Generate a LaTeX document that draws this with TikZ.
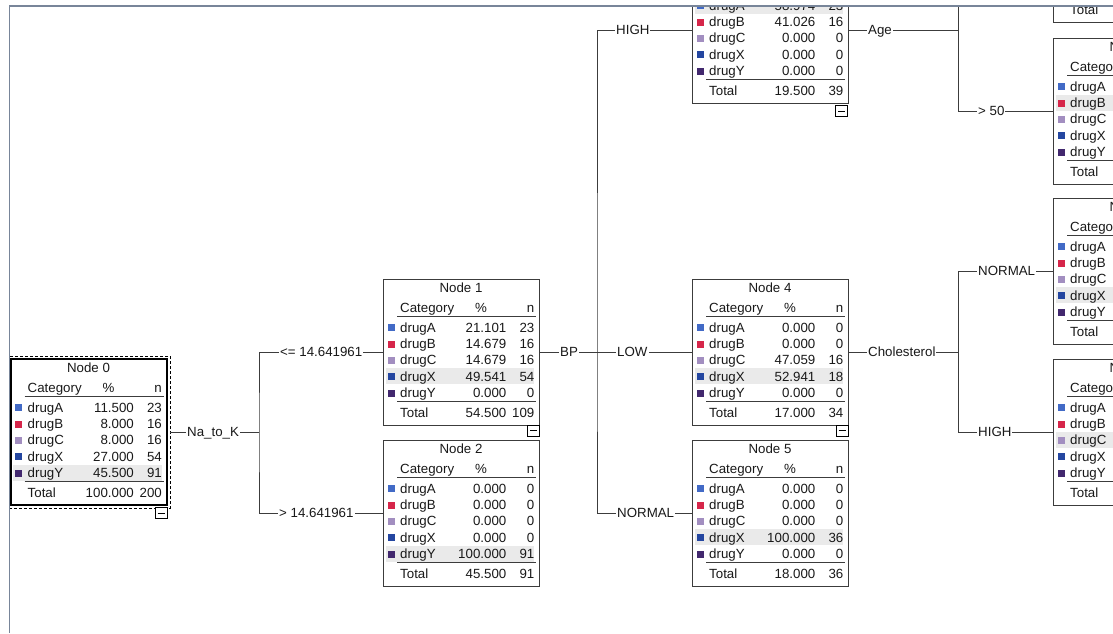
\documentclass[tikz,border=0pt]{standalone}
\usepackage{fontspec}
\setmainfont{Liberation Sans}
\definecolor{c1}{RGB}{66,106,198}
\definecolor{c2}{RGB}{214,38,74}
\definecolor{c3}{RGB}{162,142,192}
\definecolor{c4}{RGB}{36,70,160}
\definecolor{c5}{RGB}{66,40,110}
\definecolor{hlc}{RGB}{234,234,234}
\definecolor{linec}{RGB}{60,60,60}
\definecolor{txt}{RGB}{25,25,25}
\definecolor{framec}{RGB}{120,133,153}
\newcommand\tfont{\fontsize{13.3}{16}\selectfont}
\newdimen\tnx
\newdimen\tny
\tikzset{
  tbox/.style={draw=linec, line width=1pt, minimum width=156pt, minimum height=146pt,
    inner sep=0pt, outer sep=0pt, anchor=north west},
  cell/.style={inner sep=0pt, text=txt, font=\tfont},
  rulel/.style={draw=linec, line width=1pt},
  conn/.style={draw=linec, line width=1pt},
  lbl/.style={fill=white, inner xsep=1pt, inner ysep=0.5pt, anchor=base west, text=txt, font=\tfont, yshift=-4.8pt},
  minbox/.style={draw=black, line width=0.9pt, minimum width=12pt, minimum height=11pt, inner sep=0pt,
    outer sep=0pt, anchor=north east, fill=white,
    path picture={\draw[line width=0.9pt] ([xshift=-3.5pt]path picture bounding box.center) -- ([xshift=3.5pt]path picture bounding box.center);}},
  seldash/.style={draw=black, line width=0.9pt, dash pattern=on 3pt off 2pt, minimum width=161pt,
    minimum height=152pt, inner sep=0pt, outer sep=0pt, anchor=north west},
  frame/.style={draw=framec, line width=2pt}
}
\newcommand\drugname[1]{\ifcase#1\or drugA\or drugB\or drugC\or drugX\or drugY\fi}
% text row visible inside the window (row centre below the top edge)?
\newcommand\vrow[2]{\pgfmathtruncatemacro\tvis{(#1>\tnyv+2)?1:0}\ifnum\tvis=1 #2\fi}
% number columns visible inside the window?
\newcommand\vnum[1]{\ifnum\tnumvis=1 #1\fi}
% #1 style, #2 name, #3 position, #4 title, #5 highlight row, #6 rows, #7 total pct, #8 total n
\newcommand\treenode[8][]{%
  \node[tbox,#1] (#2) at (#3) {};
  \pgfextractx{\tnx}{\pgfpointanchor{#2}{north west}}%
  \pgfextracty{\tny}{\pgfpointanchor{#2}{north west}}%
  \pgfmathsetmacro\tnyv{\tny}%
  \pgfmathtruncatemacro\tnumvis{(\tnx<1010pt)?1:0}%
  \begin{scope}[shift={(#2.north west)}]
    \fill[hlc] (2.5,{48.5+16.3*(#5-1)-8}) rectangle (151,{48.5+16.3*(#5-1)+8});
    \vrow{8.5}{\node[cell, anchor=base] at (78,13.3) {#4};}
    \vrow{28.5}{\node[cell, anchor=base west] at (17,33.3) {Category};}
    \vrow{28.5}{\vnum{\node[cell, anchor=base] at (98,33.3) {\%};
      \node[cell, anchor=base east] at (151.5,33.3) {n};}}
    \draw[rulel] (14,37) -- (153,37);
    \foreach \p/\n [count=\i] in {#6} {
      \pgfmathsetmacro\ry{48.5+16.3*(\i-1)}
      \fill[fill=c\i] (4.5,\ry-3.2) rectangle ++(7,7);
      \vrow{\ry}{\node[cell, anchor=base west] at (17,\ry+4.8) {\drugname{\i}};
        \vnum{\node[cell, anchor=base east] at (123.5,\ry+4.8) {\p};
        \node[cell, anchor=base east] at (151.5,\ry+4.8) {\n};}}
    }
    \draw[rulel] (14,122.5) -- (153,122.5);
    \node[cell, anchor=base west] at (17,138.3) {Total};
    \vnum{\node[cell, anchor=base east] at (123.5,138.3) {#7};
    \node[cell, anchor=base east] at (151.5,138.3) {#8};}
  \end{scope}
}
\begin{document}
\begin{tikzpicture}[x=1pt,y=-1pt]
\useasboundingbox (0,0) rectangle (1113,633);
\fill[white] (0,0) rectangle (1113,633);
\begin{scope}
\clip (10,7) rectangle (1113,633);
% nodes
\treenode[draw=black, line width=2pt]{n0}{10.5,359}{Node 0}{5}{11.500/23, 8.000/16, 8.000/16, 27.000/54, 45.500/91}{100.000}{200}
\node[seldash] (sel) at (9,356) {};
\treenode{n1}{383,279}{Node 1}{4}{21.101/23, 14.679/16, 14.679/16, 49.541/54, 0.000/0}{54.500}{109}
\treenode{n2}{383,440}{Node 2}{5}{0.000/0, 0.000/0, 0.000/0, 0.000/0, 100.000/91}{45.500}{91}
\treenode{n3}{692,-43}{Node 3}{1}{58.974/23, 41.026/16, 0.000/0, 0.000/0, 0.000/0}{19.500}{39}
\treenode{n4}{692,279}{Node 4}{4}{0.000/0, 0.000/0, 47.059/16, 52.941/18, 0.000/0}{17.000}{34}
\treenode{n5}{692,440}{Node 5}{4}{0.000/0, 0.000/0, 0.000/0, 100.000/36, 0.000/0}{18.000}{36}
\treenode{n6}{1053,-124}{Node 6}{1}{100.000/23, 0.000/0, 0.000/0, 0.000/0, 0.000/0}{11.500}{23}
\treenode{n7}{1053,38}{Node 7}{2}{0.000/0, 100.000/16, 0.000/0, 0.000/0, 0.000/0}{8.000}{16}
\treenode{n8}{1053,198}{Node 8}{4}{0.000/0, 0.000/0, 0.000/0, 100.000/18, 0.000/0}{9.000}{18}
\treenode{n9}{1053,359}{Node 9}{3}{0.000/0, 0.000/0, 100.000/16, 0.000/0, 0.000/0}{8.000}{16}
% collapse boxes
\node[minbox] (m0) at (167,507.5) {};
\node[minbox] (m1) at (539.5,425) {};
\node[minbox] (m3) at (847.5,105.5) {};
\node[minbox] (m4) at (848,425) {};
% junctions
\coordinate (j0) at (259,432);
\coordinate (j1) at (597,352);
\coordinate (j3) at (958,30);
\coordinate (j4) at (958,352);
% connectors
\draw[conn] (sel.east) -- (j0);
\draw[conn] (n1.west) -| (j0) |- (n2.west);
\draw[conn] (n1.east) -- (n4.west);
\draw[conn] (n3.west) -| (j1) |- (n5.west);
\draw[conn] (n3.east) -- (j3);
\draw[conn] (n6.west) -| (j3) |- (n7.west);
\draw[conn] (n4.east) -- (j4);
\draw[conn] (n8.west) -| (j4) |- (n9.west);
% labels
\node[lbl] (l0) at ([xshift=16pt]sel.east) {Na\_to\_K};
\node[lbl] (l1) at ([xshift=20pt]j0 |- n1.west) {<= 14.641961};
\node[lbl] (l2) at ([xshift=19pt]j0 |- n2.west) {> 14.641961};
\node[lbl] (l3) at ([xshift=20pt]n1.east) {BP};
\node[lbl] (l4) at ([xshift=18pt]j1 |- n3.west) {HIGH};
\node[lbl] (l5) at ([xshift=19pt]j1) {LOW};
\node[lbl] (l6) at ([xshift=19pt]j1 |- n5.west) {NORMAL};
\node[lbl] (l7) at ([xshift=19pt]n3.east) {Age};
\node[lbl] (l8) at ([xshift=19pt]j3 |- n7.west) {> 50};
\node[lbl] (l9) at ([xshift=19pt]n4.east) {Cholesterol};
\node[lbl] (l10) at ([xshift=19pt]j4 |- n8.west) {NORMAL};
\node[lbl] (l11) at ([xshift=19pt]j4 |- n9.west) {HIGH};
\end{scope}
% window frame
\draw[frame] (9,6) -- (1113,6);
\draw[frame, line width=1.3pt] (9.5,6) -- (9.5,633);
\end{tikzpicture}
\end{document}
